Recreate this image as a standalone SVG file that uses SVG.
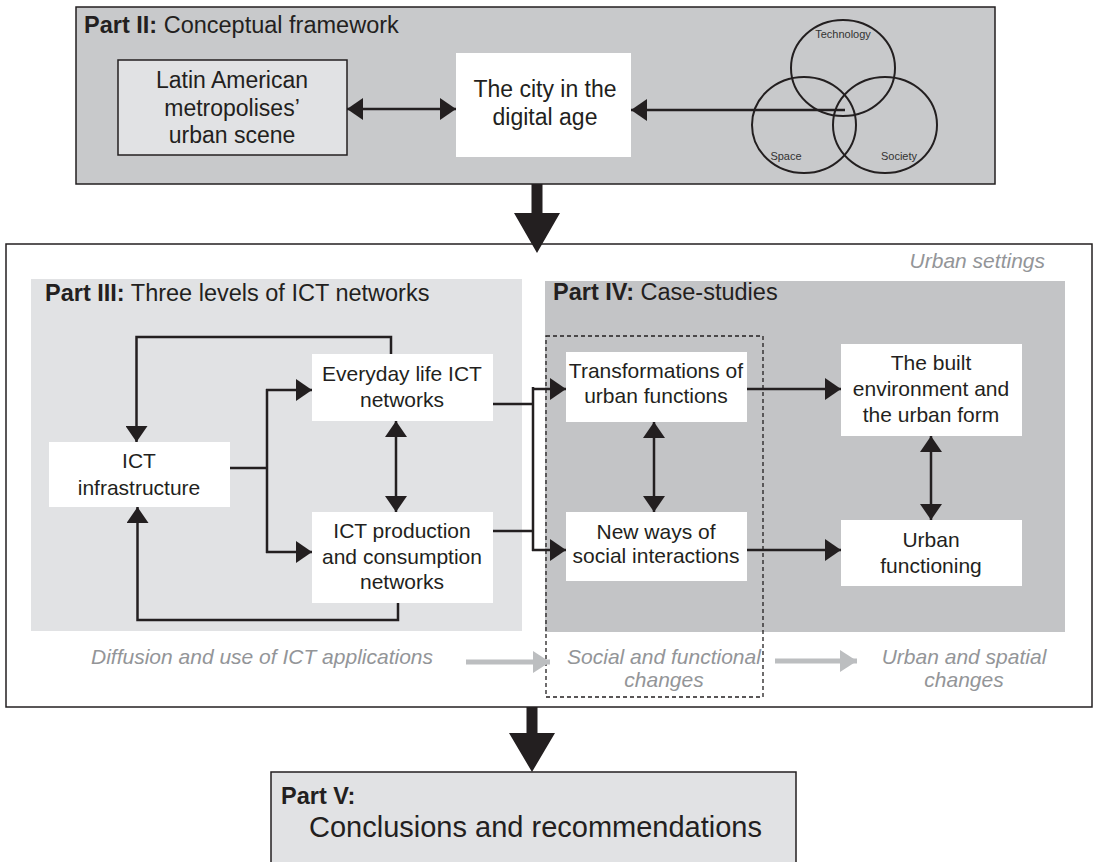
<svg xmlns="http://www.w3.org/2000/svg" width="1094" height="862" viewBox="0 0 1094 862">
  <defs>
    <style>
      text { font-family: "Liberation Sans", Arial, Helvetica, sans-serif; fill: #231f20; }
      .frame { stroke: #231f20; stroke-width: 1.5; }
      .node { fill: #ffffff; }
      .lbl { font-size: 21px; text-anchor: middle; }
      .big { font-size: 23px; text-anchor: middle; }
      .head { font-size: 23.5px; }
      .b { font-weight: bold; }
      .note { font-size: 21px; font-style: italic; fill: #939598; }
      .venn { fill: none; stroke: #231f20; stroke-width: 2; }
      .vl { font-size: 11px; fill: #333333; }
      .wire { fill: none; stroke: #231f20; stroke-width: 2.5; }
      .one { marker-end: url(#ah); }
      .two { marker-start: url(#ah); marker-end: url(#ah); }
      .soft { fill: none; stroke: #bcbec0; stroke-width: 5; marker-end: url(#gh); }
      .dash { fill: none; stroke: #231f20; stroke-width: 1.3; stroke-dasharray: 4 3; }
    </style>
    <marker id="ah" markerUnits="userSpaceOnUse" markerWidth="16" markerHeight="22" viewBox="0 0 16 22" refX="16" refY="11" orient="auto-start-reverse">
      <path d="M0,0 L16,11 L0,22 Z" fill="#231f20"/>
    </marker>
    <marker id="gh" markerUnits="userSpaceOnUse" markerWidth="17" markerHeight="22" viewBox="0 0 17 22" refX="17" refY="11" orient="auto">
      <path d="M0,0 L17,11 L0,22 Z" fill="#bcbec0"/>
    </marker>
  </defs>

  <!-- Part II frame -->
  <g id="part2">
    <rect class="frame" x="76" y="7" width="919" height="177" fill="#c8c9cb"/>
    <text class="head" x="84" y="33"><tspan class="b">Part II:</tspan> Conceptual framework</text>
  </g>

  <!-- Part III/IV outer frame -->
  <g id="urban-settings">
    <rect class="frame" x="6" y="244" width="1086" height="463" fill="#ffffff"/>
    <text class="note" x="1045" y="268" text-anchor="end">Urban settings</text>
  </g>

  <g id="part3">
    <rect x="31" y="279" width="491" height="352" fill="#e1e2e4"/>
    <text class="head" x="45" y="301"><tspan class="b">Part III:</tspan> Three levels of ICT networks</text>
  </g>

  <g id="part4">
    <rect x="545" y="281" width="520" height="351" fill="#c3c4c6"/>
    <text class="head" x="553" y="300"><tspan class="b">Part IV:</tspan> Case-studies</text>
  </g>

  <g id="part5">
    <rect class="frame" x="271" y="772" width="525" height="100" fill="#e1e2e4"/>
    <text class="head" x="281" y="804"><tspan class="b">Part V:</tspan></text>
    <text x="309" y="837" font-size="29">Conclusions and recommendations</text>
  </g>

  <!-- Conceptual framework nodes -->
  <g id="latin-america">
    <rect class="frame" x="118" y="60" width="229" height="95" fill="#e1e2e4"/>
    <text class="big"><tspan x="232" y="88">Latin American</tspan><tspan x="232" y="116">metropolises’</tspan><tspan x="232" y="143">urban scene</tspan></text>
  </g>

  <g id="digital-city">
    <rect class="node" x="456" y="53" width="175" height="104"/>
    <text class="big"><tspan x="545" y="97">The city in the</tspan><tspan x="545" y="125">digital age</tspan></text>
  </g>

  <g id="venn">
    <ellipse class="venn" cx="843" cy="68" rx="52" ry="48"/>
    <ellipse class="venn" cx="804" cy="125" rx="52" ry="48"/>
    <ellipse class="venn" cx="885" cy="125" rx="52" ry="48"/>
    <text class="vl" x="843" y="38" text-anchor="middle">Technology</text>
    <text class="vl" x="786" y="160" text-anchor="middle">Space</text>
    <text class="vl" x="899" y="160" text-anchor="middle">Society</text>
  </g>

  <!-- ICT network nodes -->
  <g id="ict-infrastructure">
    <rect class="node" x="49" y="442" width="181" height="65"/>
    <text class="lbl"><tspan x="139" y="468">ICT</tspan><tspan x="139" y="495">infrastructure</tspan></text>
  </g>

  <g id="everyday-life">
    <rect class="node" x="312" y="354" width="181" height="67"/>
    <text class="lbl"><tspan x="402" y="381">Everyday life ICT</tspan><tspan x="402" y="407">networks</tspan></text>
  </g>

  <g id="production-consumption">
    <rect class="node" x="312" y="512" width="181" height="91"/>
    <text class="lbl"><tspan x="402" y="538">ICT production</tspan><tspan x="402" y="564">and consumption</tspan><tspan x="402" y="589">networks</tspan></text>
  </g>

  <!-- Case-study nodes -->
  <g id="urban-functions">
    <rect class="node" x="566" y="352" width="181" height="70"/>
    <text class="lbl"><tspan x="656" y="378">Transformations of</tspan><tspan x="656" y="403">urban functions</tspan></text>
  </g>

  <g id="social-interactions">
    <rect class="node" x="566" y="512" width="181" height="69"/>
    <text class="lbl"><tspan x="656" y="539">New ways of</tspan><tspan x="656" y="563">social interactions</tspan></text>
  </g>

  <g id="built-environment">
    <rect class="node" x="841" y="344" width="181" height="92"/>
    <text class="lbl"><tspan x="931" y="370">The built</tspan><tspan x="931" y="396">environment and</tspan><tspan x="931" y="422">the urban form</tspan></text>
  </g>

  <g id="urban-functioning">
    <rect class="node" x="841" y="520" width="181" height="66"/>
    <text class="lbl"><tspan x="931" y="547">Urban</tspan><tspan x="931" y="573">functioning</tspan></text>
  </g>

  <!-- Stage captions -->
  <g id="stages">
    <rect class="dash" x="546" y="336" width="217" height="361"/>
    <text class="note" x="91" y="664">Diffusion and use of ICT applications</text>
    <text class="note" text-anchor="middle"><tspan x="664" y="664">Social and functional</tspan><tspan x="664" y="687">changes</tspan></text>
    <text class="note" text-anchor="middle"><tspan x="964" y="664">Urban and spatial</tspan><tspan x="964" y="687">changes</tspan></text>
  </g>

  <!-- Connectors -->
  <g id="connectors">
    <path class="wire two" d="M347,109 H456"/>
    <path class="wire one" d="M845,110 H631"/>

    <path class="wire" d="M230,468 H267 M267,389 V553"/>
    <path class="wire one" d="M266,390 H312"/>
    <path class="wire one" d="M266,552 H312"/>
    <path class="wire one" d="M391,354 V337 H136.5 V442"/>
    <path class="wire one" d="M398,603 V620 H137.5 V507"/>
    <path class="wire two" d="M396,421 V512"/>

    <path class="wire" d="M493,404 H533 M493,531 H533 M533,387 V551"/>
    <path class="wire one" d="M532,389 H566"/>
    <path class="wire one" d="M532,550 H566"/>

    <path class="wire one" d="M747,389 H841"/>
    <path class="wire one" d="M747,550 H841"/>
    <path class="wire two" d="M654,422 V512"/>
    <path class="wire two" d="M931,436 V520"/>

    <path class="soft" d="M466,662 H550"/>
    <path class="soft" d="M775,661 H857"/>

    <path d="M531.5,184 H542.5 V213 H560 L537,253 L514,213 H531.5 Z" fill="#231f20"/>
    <path d="M526.5,707 H537.5 V733 H555 L532,772 L509,733 H526.5 Z" fill="#231f20"/>
  </g>
</svg>
